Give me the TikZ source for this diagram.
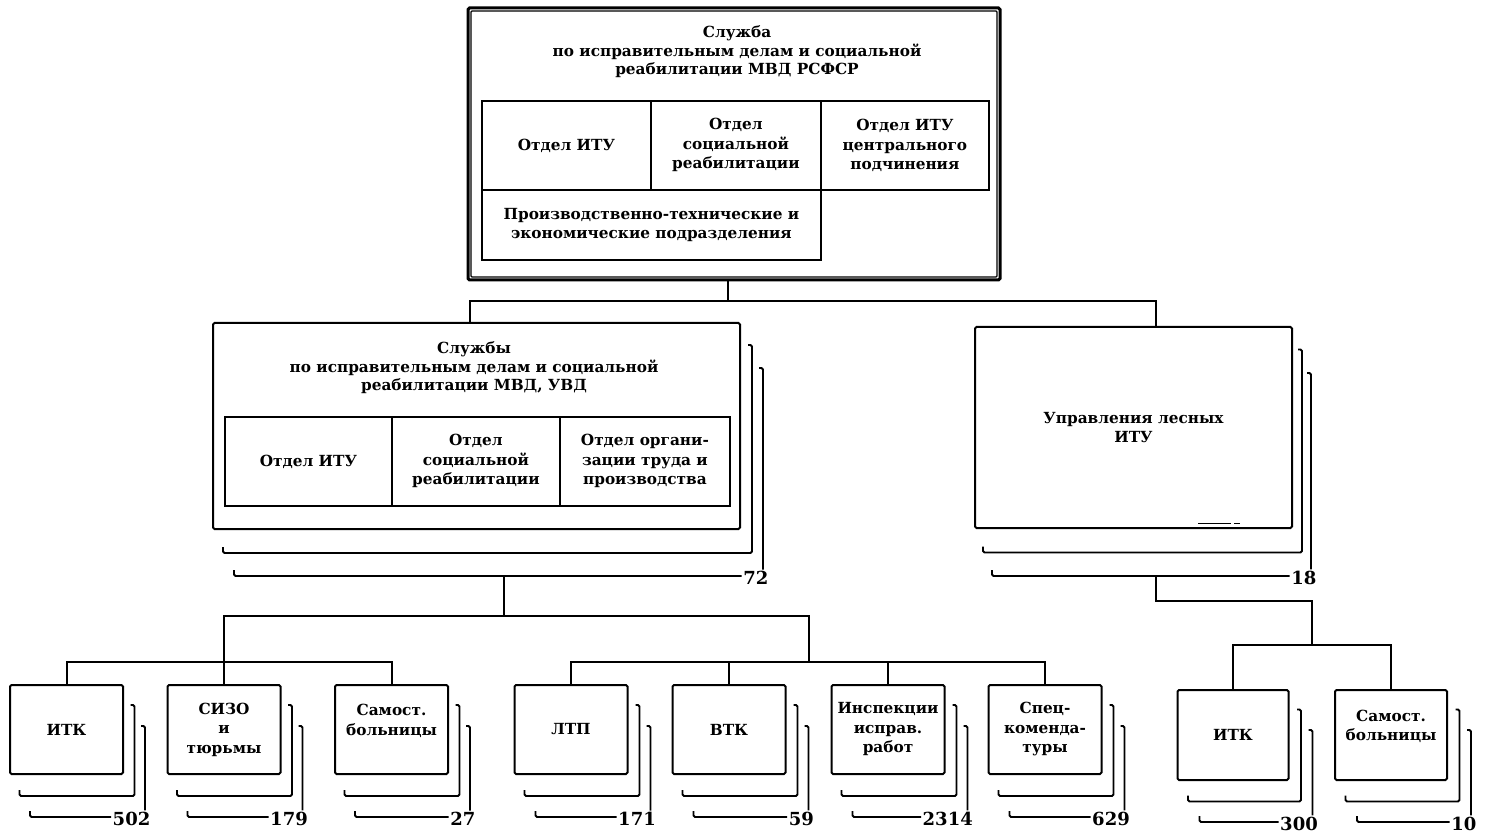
\documentclass[tikz,border=0pt]{standalone}
\usepackage{fontspec}
\setmainfont{DejaVu Serif}
\usetikzlibrary{calc}

\begin{document}
\begin{tikzpicture}[x=1pt, y=-1pt,
  unit/.style={draw, line width=2pt, rounded corners=1.5pt, align=center, inner sep=0pt,
    font=\bfseries\fontsize{15.3}{19.5}\selectfont},
  cell/.style={draw, line width=1.8pt, anchor=north west, align=center, inner sep=0pt,
    minimum height=89pt, font=\bfseries\fontsize{15.3}{19.5}\selectfont},
  title/.style={align=center, font=\bfseries\fontsize{15.3}{18.5}\selectfont},
  sheet/.style={line width=1.8pt, rounded corners=1.5pt},
  conn/.style={line width=2pt},
  count/.style={font=\bfseries\fontsize{18}{20}\selectfont, inner sep=1.5pt}]
  \useasboundingbox (0,0) rectangle (1486,834);

  % head office, double frame
  \node[unit, line width=3pt, minimum width=532pt, minimum height=272pt] (rsfsr) at (734,144) {};
  \draw[line width=1.3pt, rounded corners=1pt] ([shift={(4.5pt,-4.5pt)}]rsfsr.north west)
    rectangle ([shift={(-4.5pt,4.5pt)}]rsfsr.south east);
  \node[title] (rsfsr-t) at (737,52) {Служба\\по исправительным делам и социальной\\реабилитации МВД РСФСР};
  \node[cell, minimum width=169pt] (r-itu) at (481,100) {Отдел ИТУ};
  \node[cell, minimum width=170pt] (r-soc) at (650,100) {Отдел\\социальной\\реабилитации};
  \node[cell, minimum width=168pt] (r-cen) at (820,100) {Отдел ИТУ\\центрального\\подчинения};
  \node[cell, minimum width=339pt, minimum height=70pt] (r-eco) at (481,189)
    {Производственно-технические и\\экономические подразделения};

  % services of the regions
  \node[unit, minimum width=527pt, minimum height=206pt] (mvd) at (476.5,426) {};
  \node[title] (mvd-t) at (474,368) {Службы\\по исправительным делам и социальной\\реабилитации МВД, УВД};
  \node[cell, minimum width=167pt] (m-itu) at (224,416) {Отдел ИТУ};
  \node[cell, minimum width=168pt] (m-soc) at (391,416) {Отдел\\социальной\\реабилитации};
  \node[cell, minimum width=170pt] (m-org) at (559,416) {Отдел органи-\\зации труда и\\производства};

  % forest camps
  \node[unit, minimum width=317pt, minimum height=201pt] (les) at (1133.5,427.5) {Управления лесных\\ИТУ};
  \draw[line width=1pt] (1198,523) -- (1231,523) (1234,523) -- (1240,523);

  % institutions
  \foreach \b/\x/\t in {itk/66.5/ИТК, sizo/224/{СИЗО\\и\\тюрьмы}, bol/391.5/{Самост.\\больницы\\~},
      ltp/571/ЛТП, vtk/729/ВТК, insp/888/{Инспекции\\исправ.\\работ}, spec/1045/{Спец-\\коменда-\\туры}}
    \node[unit, minimum width=113pt, minimum height=89pt] (\b) at (\x,729.5) {\t};
  \node[unit, minimum width=111pt, minimum height=90pt] (itkl) at (1233,735) {ИТК};
  \node[unit, minimum width=112pt, minimum height=90pt] (boll) at (1391,735) {Самост.\\больницы\\~};

  % stacked sheets and counts
  \foreach \b/\sx/\sy/\cnt in {mvd/11/23/72, les/9/23.5/18, itk/10.5/21/502, sizo/10.5/21/179,
      bol/10.5/21/27, ltp/11/21/171, vtk/11/21/59, insp/11/21/2314, spec/11/21/629,
      itkl/11.5/20.5/300, boll/11.5/20.5/10}{
    \draw[sheet] ([shift={(\sx*1pt,-\sy*1pt+6pt)}]\b.south west) -- ++(0pt,-6pt)
      -- ([shift={(\sx*1pt,-\sy*1pt)}]\b.south east) -- ([shift={(\sx*1pt,-\sy*1pt)}]\b.north east)
      -- ++(-4pt,0pt);
    \coordinate (k-\b) at ([shift={(2*\sx*1pt,-2*\sy*1pt)}]\b.south east);
    \node[count, anchor=east] (n-\b) at ([shift={(7pt,-2pt)}]k-\b) {\cnt};
    \draw[sheet] ([shift={(2*\sx*1pt,-2*\sy*1pt+6pt)}]\b.south west) -- ++(0pt,-6pt) -- (k-\b -| n-\b.west);
    \draw[sheet] ([shift={(2*\sx*1pt-4pt,-2*\sy*1pt)}]\b.north east) -- ++(4pt,0pt) -- (k-\b |- n-\b.north);
  }

  % connectors
  \coordinate (o-rsfsr) at ([xshift=-6pt]rsfsr.south);
  \coordinate (i-mvd) at ([xshift=-6.5pt]mvd.north);
  \coordinate (i-les) at ([xshift=22.5pt]les.north);
  \draw[conn] (i-mvd) -- ++(0pt,21pt) coordinate (j0) -| (i-les);
  \draw[conn] (o-rsfsr) -- (o-rsfsr |- j0);

  \coordinate (o-mvd) at ([shift={(27.5pt,-46pt)}]mvd.south);
  \draw[conn] (sizo.north) -- ++(0pt,68pt) coordinate (j1) -| ($(vtk.north)!0.5!(insp.north)+(0pt,22pt)$);
  \draw[conn] (o-mvd) -- (o-mvd |- j1);
  \draw[conn] (itk.north) -- ++(0pt,22pt) -| (bol.north);
  \draw[conn] (ltp.north) -- ++(0pt,22pt) -| (spec.north);
  \draw[conn] (vtk.north) -- ++(0pt,22pt);
  \draw[conn] (insp.north) -- ++(0pt,22pt);

  \coordinate (o-les) at ([shift={(22pt,-47pt)}]les.south);
  \draw[conn] (itkl.north) -- ++(0pt,44pt) coordinate (j2) -| (boll.north);
  \draw[conn] (o-les) -- ++(0pt,-25pt) -| ($(itkl.north)!0.5!(boll.north)+(0pt,44pt)$);
\end{tikzpicture}
\end{document}
